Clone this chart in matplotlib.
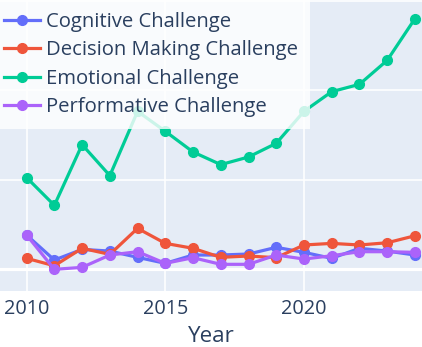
import matplotlib
matplotlib.use("Agg")
import matplotlib.pyplot as plt

years = list(range(2010, 2025))
cognitive = [3.83, 1.04, 2.23, 2.04, 1.34, 0.67, 1.6, 1.6, 1.71, 2.46, 1.9, 1.23, 2.35, 2.04, 1.6]
decision = [1.23, 0.4, 2.35, 1.67, 4.58, 2.9, 2.35, 1.34, 1.49, 1.3, 2.72, 2.9, 2.72, 2.97, 3.75]
emotional = [10.25, 7.15, 13.93, 10.47, 17.65, 15.42, 13.11, 11.70, 12.55, 14.08, 17.65, 19.85, 20.67, 23.35, 28.0]
performative = [3.83, 0.0, 0.22, 1.6, 1.97, 0.67, 1.3, 0.56, 0.56, 1.6, 1.15, 1.52, 1.97, 1.97, 1.9]
series_names = ["Cognitive Challenge", "Decision Making Challenge", "Emotional Challenge", "Performative Challenge"]
colors = ["#636EFA", "#EF553B", "#00CC96", "#AB63FA"]
xticks = [2010, 2015, 2020]

plt.rcParams['font.family'] = ['Open Sans', 'DejaVu Sans']
W, H = 422, 347
fig = plt.figure(figsize=(W / 100, H / 100), dpi=100)
bottom_px = 291
ax = fig.add_axes([0, 1 - bottom_px / H, 1, bottom_px / H])
ax.set_facecolor("#E5ECF6")
for s in ax.spines.values():
    s.set_visible(False)

ax.set_xlim(2009.04, 2024.255)
ax.set_ylim(-2.42, 30.09)
ax.set_yticks([0, 10, 20, 30])
ax.set_xticks(xticks)
ax.set_xticklabels([str(t) for t in xticks])
ax.grid(True, color="white", linewidth=1.15)
ax.set_axisbelow(True)
ax.axhline(0, color="white", linewidth=2.3, zorder=1)
ax.tick_params(left=False, labelleft=False, bottom=False, labelsize=14.3,
               labelcolor="#2a3f5f", pad=2.0)
ax.set_xlabel("Year", fontsize=16.1, color="#2a3f5f", labelpad=5)

for name, vals, c in zip(series_names, [cognitive, decision, emotional, performative], colors):
    ax.plot(years, vals, color=c, linewidth=2.3, marker="o", markersize=7.0,
            label=name, zorder=3, clip_on=False)

leg = ax.legend(loc="upper left", bbox_to_anchor=(-8.5 / W, 1), borderaxespad=0,
                fontsize=14.6, frameon=True, fancybox=False,
                handlelength=1.77, handletextpad=0.3, labelspacing=0.41,
                borderpad=0.6)
frame = leg.get_frame()
frame.set_facecolor((1, 1, 1, 0.5))
frame.set_edgecolor("none")
for t in leg.get_texts():
    t.set_color("#2a3f5f")
leg.set_zorder(5)

fig.savefig("out.png", dpi=100)
